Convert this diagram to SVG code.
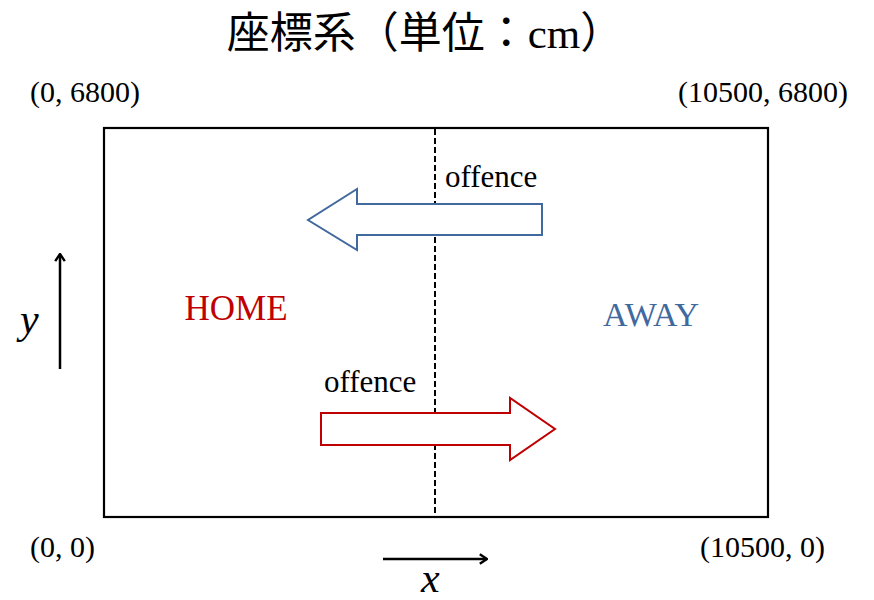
<svg xmlns="http://www.w3.org/2000/svg" width="874" height="600" viewBox="0 0 874 600">
<style>
.t{font-family:"Liberation Serif","Times New Roman",serif;font-size:30px;fill:#000}
.title{font-family:"Liberation Serif","Noto Sans CJK JP",sans-serif;font-size:43px;fill:#000}
.ax{stroke:#000;stroke-width:2.5;fill:none}
.var{font-family:"Liberation Serif",serif;font-style:italic;font-size:42px;fill:#000}
</style>
<defs>
<marker id="ah" viewBox="0 0 10 10" refX="9" refY="5" markerWidth="12" markerHeight="12" orient="auto" markerUnits="userSpaceOnUse">
<path d="M3,1 L9,5 L3,9" fill="none" stroke="#000" stroke-width="2"/>
</marker>
</defs>
<rect width="874" height="600" fill="#fff"/>
<text class="title" x="425" y="48" text-anchor="middle">座標系（単位：cm）</text>
<g id="field">
<rect x="104" y="128" width="664" height="389" fill="none" stroke="#000" stroke-width="2.2"/>
</g>
<g id="connectors">
<line x1="435" y1="129" x2="435" y2="516" stroke="#000" stroke-width="2" stroke-dasharray="6,3"/>
<line class="ax" x1="60" y1="369" x2="60" y2="254" marker-end="url(#ah)"/>
<line class="ax" x1="383" y1="559" x2="487" y2="559" marker-end="url(#ah)"/>
</g>
<g id="away-arrow">
<polygon points="542,204 357,204 357,189 308,220 357,250 357,235 542,235" fill="#fff" stroke="#41699E" stroke-width="2"/>
<text class="t" x="445" y="187" style="font-size:31px">offence</text>
</g>
<g id="home-arrow">
<polygon points="321,413 510,413 510,398 555,429 510,460 510,445 321,445" fill="#fff" stroke="#C00000" stroke-width="2"/>
<text class="t" x="324" y="392" style="font-size:31px">offence</text>
</g>
<g id="home"><text class="t" x="236" y="320" text-anchor="middle" style="fill:#C00000;font-size:35px">HOME</text></g>
<g id="away"><text class="t" x="651" y="326" text-anchor="middle" style="fill:#41699E;font-size:34px">AWAY</text></g>
<g id="corners">
<text class="t" x="30" y="102">(0, 6800)</text>
<text class="t" x="678" y="102">(10500, 6800)</text>
<text class="t" x="30" y="557">(0, 0)</text>
<text class="t" x="700" y="557">(10500, 0)</text>
</g>
<text class="var" x="20" y="333">y</text>
<text class="var" x="421" y="592">x</text>
</svg>
